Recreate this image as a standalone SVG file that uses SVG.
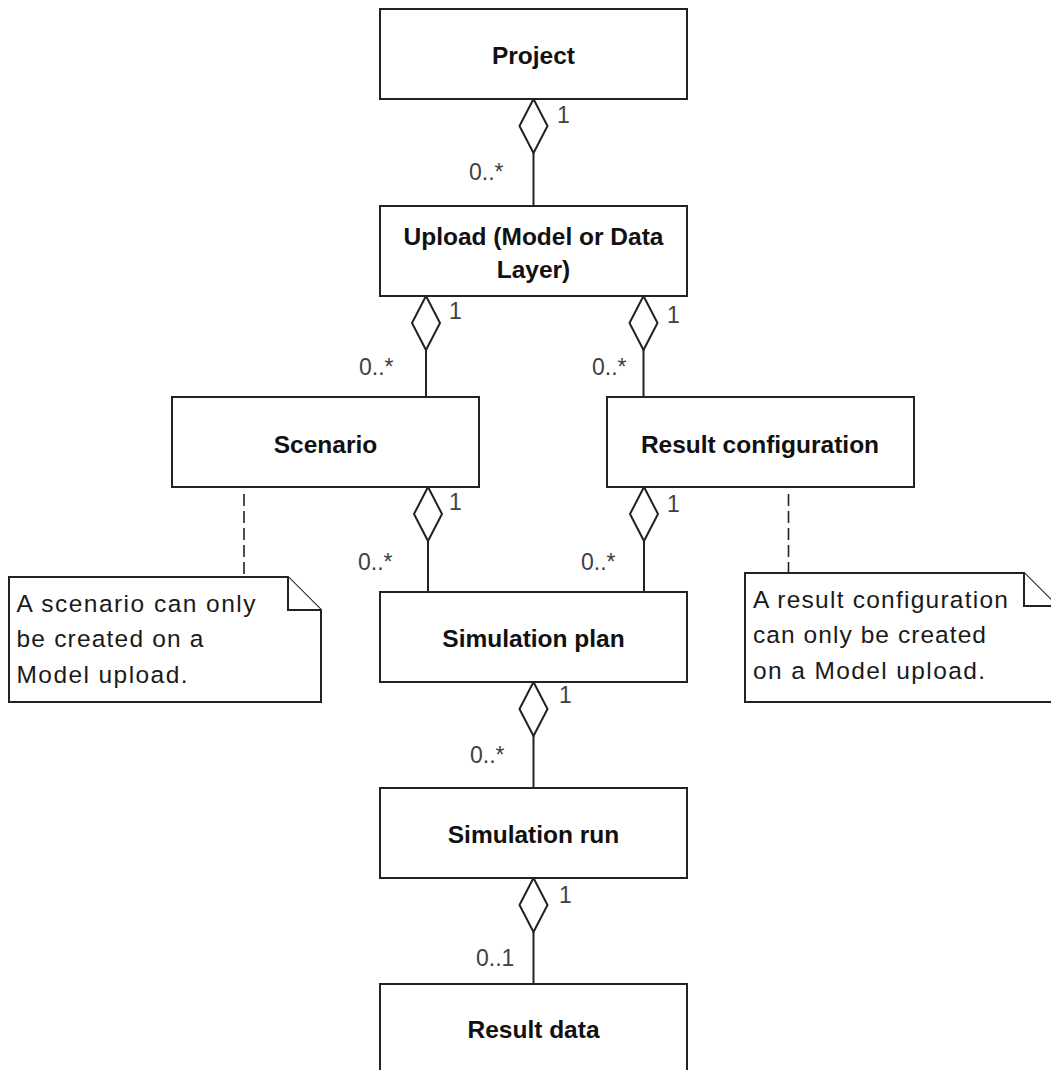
<svg xmlns="http://www.w3.org/2000/svg" width="1051" height="1070" viewBox="0 0 1051 1070">
  <style>
    .box { fill: #ffffff; stroke: #222222; stroke-width: 2; }
    .lbl { font-family: "Liberation Sans", Arial, sans-serif; font-size: 24.5px; font-weight: bold; fill: #111111; text-anchor: middle; }
    .mult { font-family: "Liberation Sans", Arial, sans-serif; font-size: 23px; fill: #3f3f46; }
    .note { fill: #ffffff; stroke: #222222; stroke-width: 2; stroke-linejoin: miter; }
    .notetxt { font-family: "Liberation Sans", Arial, sans-serif; font-size: 24.5px; fill: #1a1a1a; }
    .edge { fill: none; stroke: #222222; stroke-width: 2; }
    .dia { fill: #ffffff; stroke: #222222; stroke-width: 2; stroke-linejoin: miter; }
    .dash { fill: none; stroke: #222222; stroke-width: 1.6; stroke-dasharray: 12 5; }
  </style>
  <rect width="1051" height="1070" fill="#ffffff"/>

  <g id="connectors">
    <g id="c-project-upload">
      <line class="edge" x1="533.5" y1="153" x2="533.5" y2="206"/>
      <polygon class="dia" points="533.5,99 547.5,126 533.5,153 519.5,126"/>
      <text class="mult" x="557" y="123">1</text>
      <text class="mult" x="469" y="180">0..*</text>
    </g>
    <g id="c-upload-scenario">
      <line class="edge" x1="426" y1="350" x2="426" y2="397"/>
      <polygon class="dia" points="426,296 440,323 426,350 412,323"/>
      <text class="mult" x="449" y="319">1</text>
      <text class="mult" x="359" y="375">0..*</text>
    </g>
    <g id="c-upload-resultconfig">
      <line class="edge" x1="643.5" y1="350" x2="643.5" y2="397"/>
      <polygon class="dia" points="643.5,296 657.5,323 643.5,350 629.5,323"/>
      <text class="mult" x="667" y="323">1</text>
      <text class="mult" x="592" y="375">0..*</text>
    </g>
    <g id="c-scenario-simplan">
      <line class="edge" x1="428" y1="541" x2="428" y2="592"/>
      <polygon class="dia" points="428,487 442,514 428,541 414,514"/>
      <text class="mult" x="449" y="510">1</text>
      <text class="mult" x="358" y="570">0..*</text>
    </g>
    <g id="c-resultconfig-simplan">
      <line class="edge" x1="644" y1="541" x2="644" y2="592"/>
      <polygon class="dia" points="644,487 658,514 644,541 630,514"/>
      <text class="mult" x="667" y="512">1</text>
      <text class="mult" x="581" y="570">0..*</text>
    </g>
    <g id="c-simplan-simrun">
      <line class="edge" x1="533.5" y1="736" x2="533.5" y2="788"/>
      <polygon class="dia" points="533.5,682 547.5,709 533.5,736 519.5,709"/>
      <text class="mult" x="559" y="703">1</text>
      <text class="mult" x="470" y="763">0..*</text>
    </g>
    <g id="c-simrun-resultdata">
      <line class="edge" x1="533.5" y1="932" x2="533.5" y2="984"/>
      <polygon class="dia" points="533.5,878 547.5,905 533.5,932 519.5,905"/>
      <text class="mult" x="559" y="903">1</text>
      <text class="mult" x="476" y="966">0..1</text>
    </g>
    <line id="c-note-scenario" class="dash" x1="244" y1="494" x2="244" y2="577"/>
    <line id="c-note-resultconfig" class="dash" x1="788.5" y1="494" x2="788.5" y2="573"/>
  </g>

  <g id="project">
    <rect class="box" x="380" y="9" width="307" height="90"/>
    <text class="lbl" x="533.5" y="64">Project</text>
  </g>
  <g id="upload">
    <rect class="box" x="380" y="206" width="307" height="90"/>
    <text class="lbl" x="533.5" y="245">Upload (Model or Data</text>
    <text class="lbl" x="533.5" y="278">Layer)</text>
  </g>
  <g id="scenario">
    <rect class="box" x="172" y="397" width="307" height="90"/>
    <text class="lbl" x="325.5" y="453">Scenario</text>
  </g>
  <g id="result-configuration">
    <rect class="box" x="607" y="397" width="307" height="90"/>
    <text class="lbl" x="760" y="453">Result configuration</text>
  </g>
  <g id="simulation-plan">
    <rect class="box" x="380" y="592" width="307" height="90"/>
    <text class="lbl" x="533.5" y="647">Simulation plan</text>
  </g>
  <g id="simulation-run">
    <rect class="box" x="380" y="788" width="307" height="90"/>
    <text class="lbl" x="533.5" y="843">Simulation run</text>
  </g>
  <g id="result-data">
    <rect class="box" x="380" y="984" width="307" height="90"/>
    <text class="lbl" x="533.5" y="1038">Result data</text>
  </g>

  <g id="note-scenario">
    <polygon class="note" points="9,577 288,577 321,610 321,702 9,702"/>
    <path class="note" d="M288,577 V610 H321" fill="none"/>
    <text class="notetxt" x="16.5" y="611.5" textLength="239" lengthAdjust="spacing">A scenario can only</text>
    <text class="notetxt" x="16.5" y="646.5" textLength="187" lengthAdjust="spacing">be created on a</text>
    <text class="notetxt" x="16.5" y="683" textLength="171" lengthAdjust="spacing">Model upload.</text>
  </g>
  <g id="note-resultconfig">
    <polygon class="note" points="745,573 1024,573 1057,606 1057,702 745,702"/>
    <path class="note" d="M1024,573 V606 H1057" fill="none"/>
    <text class="notetxt" x="753" y="607.5" textLength="255" lengthAdjust="spacing">A result configuration</text>
    <text class="notetxt" x="753" y="642.5" textLength="233" lengthAdjust="spacing">can only be created</text>
    <text class="notetxt" x="753" y="678.5" textLength="232" lengthAdjust="spacing">on a Model upload.</text>
  </g>
</svg>
